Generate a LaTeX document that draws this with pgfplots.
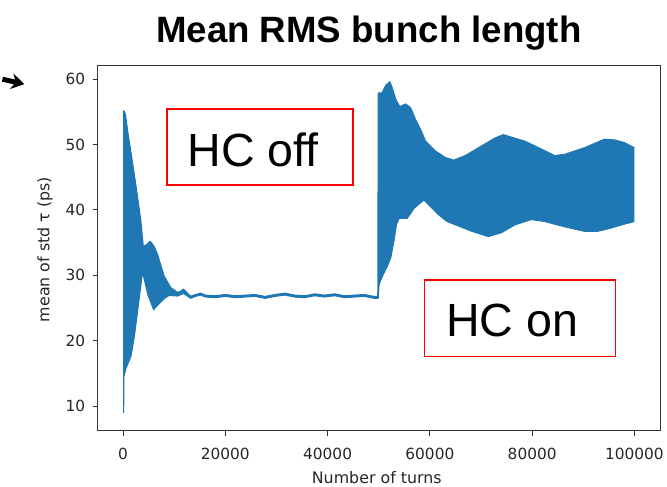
\documentclass[border=0pt]{standalone}
\usepackage{pgfplots}
\pgfplotsset{compat=1.18}
\usepgfplotslibrary{fillbetween}
\usetikzlibrary{arrows.meta}
\usepackage{fontspec}
\setmainfont{DejaVu Sans}
\newfontfamily\arial{Liberation Sans}
\definecolor{c0}{RGB}{31,119,180}
\begin{document}
\begin{tikzpicture}
\begin{axis}[
  at={(0pt,0pt)}, anchor=south west, scale only axis,
  width=568pt, height=369pt,
  xmin=-5000, xmax=105000, ymin=6.2, ymax=62.1,
  xtick={0,20000,40000,60000,80000,100000},
  xticklabels={0,20000,40000,60000,80000,100000},
  scaled x ticks=false, scaled y ticks=false,
  ytick={10,20,30,40,50,60},
  yticklabels={10,20,30,40,50,60},
  xtick pos=bottom, ytick pos=left,
  tick align=outside, major tick length=5pt,
  tick style={black!80, line width=0.8pt},
  axis line style={black!80, line width=0.8pt},
  ticklabel style={font=\fontsize{15.5}{15.5}\selectfont, text=black!85},
  xticklabel style={yshift=-9pt},
  yticklabel style={xshift=-4pt},
]
\addplot[name path=U, draw=c0, line width=1pt, line join=round] table {
0 55.2
300 55.0
500 54.4
1000 51.5
1550 48.8
2520 43.7
3500 38.2
3940 34.5
4500 34.6
5300 35.2
6000 34.5
6740 33.2
8020 29.9
9320 28.1
10620 27.4
11200 27.5
11790 27.9
12400 27.4
13200 26.8
14170 27.05
15150 27.25
16120 26.95
18060 26.85
20000 27.05
21940 26.85
23880 26.95
25830 27.05
27770 26.75
29710 27.05
31650 27.25
33590 26.95
35530 26.85
37470 27.15
39420 26.95
41360 27.15
43300 26.85
45240 26.95
47180 27.05
49130 26.75
49800 26.75
49900 57.9
50620 57.9
51400 59.1
52170 59.6
52680 58.6
53340 56.9
54110 55.8
55280 56.2
56250 55.6
57220 53.8
58190 52.3
59160 50.5
61100 49.0
63050 48.0
64660 47.6
66930 48.3
70150 49.8
72760 51.0
74370 51.5
78580 50.5
81800 49.3
84410 48.3
86350 48.5
90230 49.5
94110 50.8
96060 50.7
98000 50.3
100000 49.5
};
\addplot[name path=L, draw=c0, line width=1pt, line join=round] table {
0 9.0
120 9.0
160 14.5
600 15.8
1550 17.6
2200 20.6
2860 24.6
3500 28.6
3820 30.4
4100 29.5
4800 27.1
5960 24.7
6740 25.4
8020 26.4
9000 26.9
10620 26.8
11790 27.2
12400 26.9
13200 26.45
14170 26.75
15150 26.95
16120 26.65
18060 26.55
20000 26.75
21940 26.55
23880 26.65
25830 26.75
27770 26.45
29710 26.75
31650 26.95
33590 26.65
35530 26.55
37470 26.85
39420 26.65
41360 26.85
43300 26.55
45240 26.65
47180 26.75
49130 26.45
49800 26.45
49900 26.45
50080 28.6
50870 30.1
51710 31.4
52370 32.7
53010 35.4
53460 37.7
53980 38.7
55590 38.7
56890 40.2
58830 41.5
61750 39.2
63360 38.2
64990 37.7
68210 36.7
71450 35.9
74040 36.5
76640 37.7
79860 38.5
82460 38.2
86350 37.4
90230 36.7
92810 36.7
95400 37.2
98000 37.8
100000 38.2
};
\addplot[c0, draw=none] fill between[of=U and L];
\end{axis}
% title
\node[anchor=base, font=\arial\bfseries\fontsize{37}{37}\selectfont] at (274pt,392pt) {Mean RMS bunch length};
% axis labels
\node[anchor=base, font=\fontsize{16}{16}\selectfont, text=black!85] at (282pt,-53pt) {Number of turns};
\node[rotate=90, anchor=center, font=\fontsize{16}{16}\selectfont, text=black!85] at (-53pt,183pt) {mean of std τ (ps)};
% annotation boxes
\draw[red, line width=1.5pt] (70pt,325pt) rectangle (258pt,248pt);
\node[anchor=base west, inner sep=0pt, font=\arial\fontsize{47}{47}\selectfont] at (91pt,267pt) {HC off};
\draw[red, line width=1.5pt] (330pt,152pt) rectangle (523pt,75pt);
\node[anchor=base west, inner sep=0pt, font=\arial\fontsize{47}{47}\selectfont] at (352pt,95pt) {HC on};
% arrow
\draw[-{Stealth[length=13pt,width=16pt]}, line width=5pt] (-96pt,355pt) -- (-74pt,350pt);
% fixed page extent
\path (-96pt,-55pt) rectangle (571pt,435pt);
\end{tikzpicture}
\end{document}
